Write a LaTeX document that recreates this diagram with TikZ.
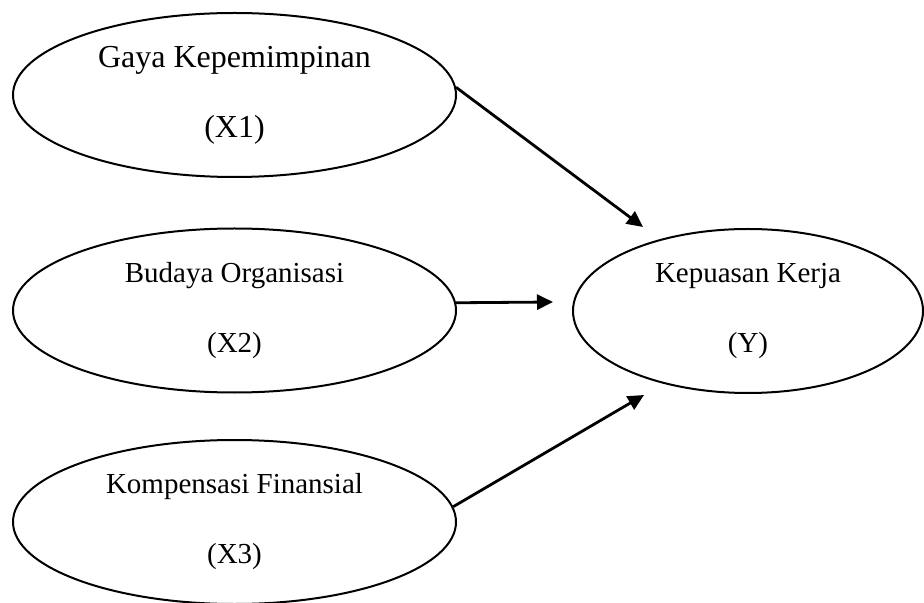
\documentclass[tikz,border=0pt]{standalone}
\usepackage{fontspec}
\setmainfont{Liberation Serif}
\usetikzlibrary{shapes.geometric,arrows.meta}
\tikzset{
	latent/.style={ellipse, draw, line width=1pt, inner sep=0pt,
		minimum width=221.5pt, minimum height=82pt, align=center,
		font=\fontsize{14.5}{35}\selectfont},
	link/.style={-{Triangle[length=8pt,width=7.5pt]}, line width=1.4pt}
}
\begin{document}
\begin{tikzpicture}[x=0.5pt,y=-0.5pt]
	\useasboundingbox (0,0) rectangle (924,603);
	\node[latent, font=\fontsize{16}{35}\selectfont] (X1) at (234.5,95) {Gaya Kepemimpinan\\(X1)};
	\node[latent] (X2) at (234.5,310.5) {Budaya Organisasi\\(X2)};
	\node[latent] (X3) at (234.5,522) {Kompensasi Finansial\\(X3)};
	\node[latent, minimum width=175pt] (Y) at (748,311) {Kepuasan Kerja\\(Y)};

	\coordinate (T1) at (643,227);
	\coordinate (T2) at (553,302);
	\coordinate (T3) at (644,395);

	\draw[link] (X1.2) -- (T1);
	\draw[link] (X2.2) -- (T2);
	\draw[link] (X3.4) -- (T3);
\end{tikzpicture}
\end{document}
